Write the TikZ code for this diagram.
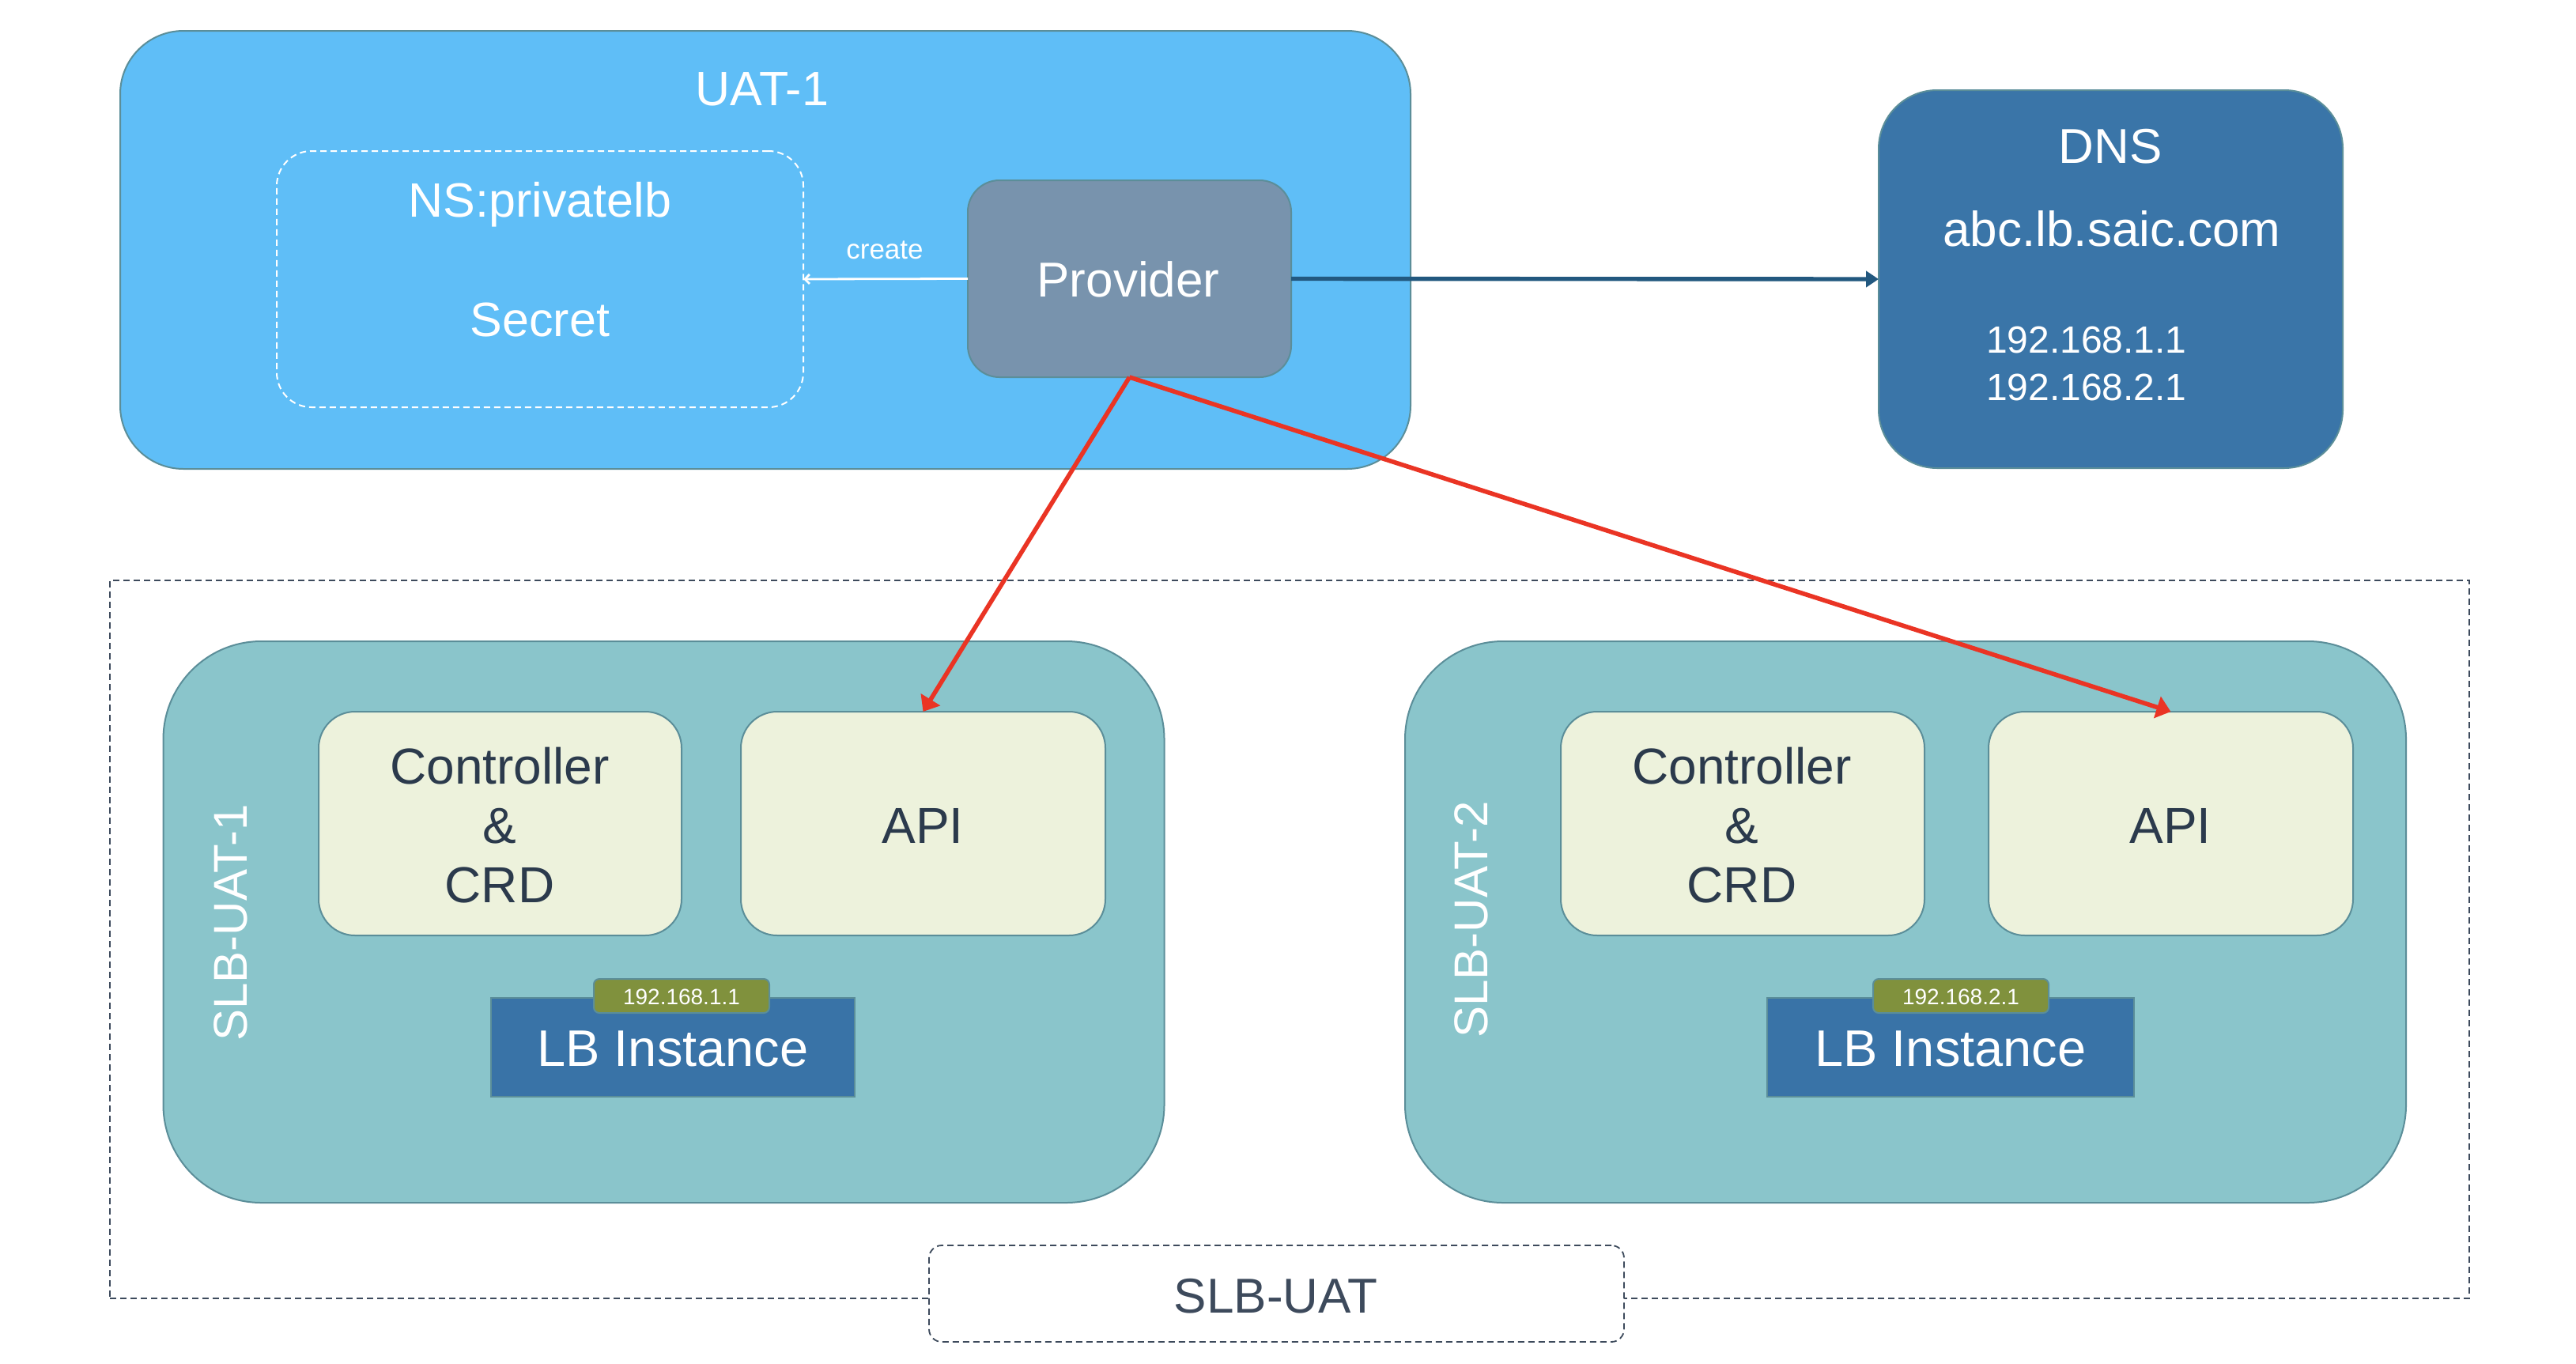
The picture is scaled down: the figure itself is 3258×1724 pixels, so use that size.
\documentclass[tikz,border=0pt]{standalone}
\usepackage{fontspec}
\setmainfont{Liberation Sans}
\usetikzlibrary{arrows.meta}
\definecolor{uatblue}{HTML}{5FBEF7}
\definecolor{provc}{HTML}{7893AD}
\definecolor{dnsc}{HTML}{3A75A8}
\definecolor{tealc}{HTML}{8AC5CB}
\definecolor{lightc}{HTML}{EDF2DC}
\definecolor{lbc}{HTML}{3973A7}
\definecolor{olivec}{HTML}{80913D}
\definecolor{edgec}{HTML}{5B8E99}
\definecolor{redc}{HTML}{EA3424}
\definecolor{darkarrow}{HTML}{22587F}
\definecolor{darktext}{HTML}{2B3A4C}
\definecolor{dashc}{HTML}{3D4A5C}
\newcommand\myfs[1]{\fontsize{#1}{#1}\selectfont}
\begin{document}
\begin{tikzpicture}[x=0.5pt,y=-0.5pt,
  box/.style={draw=edgec, line width=1pt, inner sep=0pt, outer sep=0pt},
  wtxt/.style={inner sep=0pt, outer sep=0pt, anchor=base, text=white},
  dtxt/.style={inner sep=0pt, outer sep=0pt, anchor=base, text=darktext},
  lightbox/.style={box, fill=lightc, minimum height=141.5pt, rounded corners=23pt},
  slbbox/.style={box, fill=tealc, minimum width=633pt, minimum height=355pt, rounded corners=62pt},
  lbbox/.style={box, fill=lbc, minimum height=62.5pt},
  tagbox/.style={box, fill=olivec, minimum width=111pt, minimum height=21.5pt, rounded corners=3.5pt},
  redarrow/.style={draw=redc, line width=2.8pt, -{Triangle[length=9pt,width=14pt]}},
]
\useasboundingbox[fill=white] (0,0) rectangle (3258,1724);

% UAT-1 cluster
\node[box, fill=uatblue, minimum width=816pt, minimum height=277pt, rounded corners=40pt] (uat) at (968,316) {};
\node[wtxt] (tuat) at (964,133) {\myfs{30.5}UAT-1};
\node[draw=white, dashed, dash pattern=on 4pt off 2.5pt, line width=1pt, inner sep=0pt, outer sep=0pt,
      minimum width=333pt, minimum height=162pt, rounded corners=22pt] (ns) at (683,353) {};
\node[wtxt] (tns) at (683,274) {\myfs{30.5}NS:privatelb};
\node[wtxt] (tsecret) at (683,425) {\myfs{30.5}Secret};
\node[box, fill=provc, minimum width=204.5pt, minimum height=124.5pt, rounded corners=20pt] (prov) at (1428.5,352.5) {};
\node[wtxt] (tprov) at (1427,375) {\myfs{31}Provider};
\node[wtxt] (tcreate) at (1119,327) {\myfs{17.5}create};

% DNS
\node[box, fill=dnsc, minimum width=293.5pt, minimum height=239pt, rounded corners=37pt] (dns) at (2669.5,353) {};
\node[wtxt] (tdns) at (2669,206) {\myfs{31}DNS};
\node[wtxt] (tabc) at (2671,311) {\myfs{31}abc.lb.saic.com};
\node[wtxt, anchor=base west] (tip1) at (2512,446) {\myfs{24}192.168.1.1};
\node[wtxt, anchor=base west] (tip2) at (2512,506) {\myfs{24}192.168.2.1};

% SLB-UAT outer dashed frame
\node[draw=dashc, line width=0.9pt, dash pattern=on 4pt off 2.5pt, inner sep=0pt, outer sep=0pt,
      minimum width=1492pt, minimum height=454pt] (slbuat) at (1631,1188) {};

% SLB-UAT-1
\node[slbbox] (slb1) at (839.5,1166) {};
\node[text=white, inner sep=0pt, rotate=90] (tslb1) at (292,1167) {\myfs{30}SLB-UAT-1};
\node[lightbox, minimum width=229.5pt] (ctrl1) at (632.5,1041.5) {};
\node[dtxt] (tc1a) at (632,991) {\myfs{32}Controller};
\node[dtxt] (tc1b) at (632,1066) {\myfs{32}\&};
\node[dtxt] (tc1c) at (632,1141) {\myfs{32}CRD};
\node[lightbox, minimum width=230.5pt] (api1) at (1167.5,1041.5) {};
\node[dtxt] (tapi1) at (1167,1066) {\myfs{32}API};
\node[lbbox, minimum width=230pt] (lb1) at (851,1324.5) {};
\node[wtxt] (tlb1) at (851,1348) {\myfs{32.5}LB Instance};
\node[tagbox] (tag1) at (862,1259.5) {};
\node[wtxt] (ttag1) at (862,1270) {\myfs{14}192.168.1.1};

% SLB-UAT-2
\node[slbbox] (slb2) at (2410,1166) {};
\node[text=white, inner sep=0pt, rotate=90] (tslb2) at (1861,1163) {\myfs{30}SLB-UAT-2};
\node[lightbox, minimum width=230pt] (ctrl2) at (2204,1041.5) {};
\node[dtxt] (tc2a) at (2203,991) {\myfs{32}Controller};
\node[dtxt] (tc2b) at (2203,1066) {\myfs{32}\&};
\node[dtxt] (tc2c) at (2203,1141) {\myfs{32}CRD};
\node[lightbox, minimum width=230.5pt] (api2) at (2745.5,1041.5) {};
\node[dtxt] (tapi2) at (2745,1066) {\myfs{32}API};
\node[lbbox, minimum width=232pt] (lb2) at (2467,1324.5) {};
\node[wtxt] (tlb2) at (2467,1348) {\myfs{32.5}LB Instance};
\node[tagbox] (tag2) at (2480,1259.5) {};
\node[wtxt] (ttag2) at (2480,1270) {\myfs{14}192.168.2.1};

% SLB-UAT label
\node[draw=dashc, fill=white, line width=0.9pt, dash pattern=on 4pt off 2.5pt, inner sep=0pt, outer sep=0pt,
      minimum width=439.5pt, minimum height=61pt, rounded corners=8pt] (slblabel) at (1614.5,1636) {};
\node[inner sep=0pt, anchor=base, text=dashc] (tslbuat) at (1613.5,1660) {\myfs{31}SLB-UAT};

% connectors
\draw[white, line width=1.4pt, -{Straight Barb[length=3pt,width=6pt]}] (prov.west) -- (ns.east);
\draw[darkarrow, line width=2.7pt, -{Triangle[length=8pt,width=10pt]}] (prov.east) -- (dns.west);
\draw[redarrow] (prov.south) -- (api1.north);
\draw[redarrow] (prov.south) -- (api2.north);
\end{tikzpicture}
\end{document}
